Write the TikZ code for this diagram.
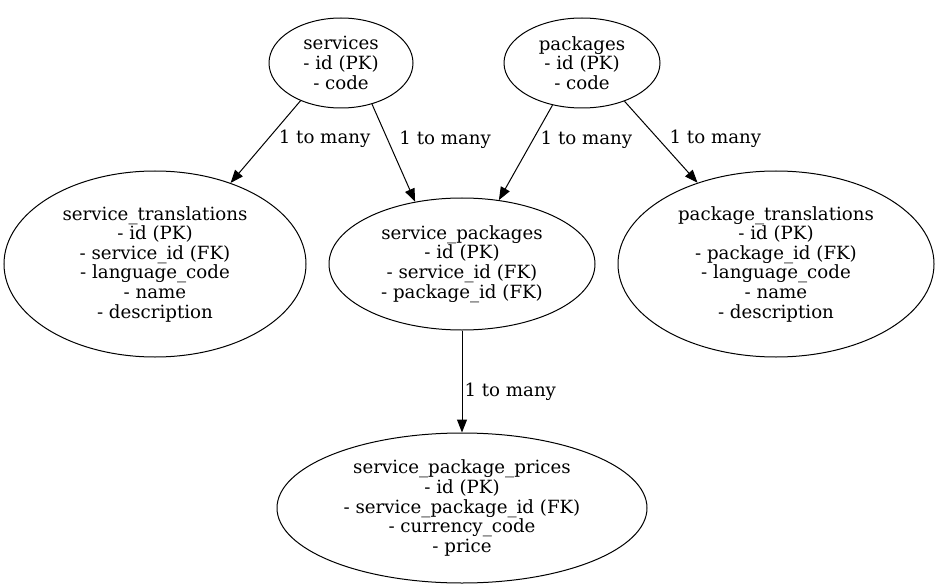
\documentclass[tikz,border=0pt]{standalone}
\usepackage{fontspec}
\setmainfont{DejaVu Serif}
\usetikzlibrary{shapes.geometric,arrows.meta}
\begin{document}
\begin{tikzpicture}[x=1pt,y=-1pt,
  ent/.style={draw, ellipse, inner sep=0pt, align=center, line width=1pt,
    font=\fontsize{18.2}{19.6}\selectfont},
  rel/.style={line width=1pt, -{Triangle[length=13pt,width=10pt]}},
  lbl/.style={font=\fontsize{18.2}{19.6}\selectfont, inner sep=0pt, anchor=west}]
\useasboundingbox (0,0) rectangle (939,588);
\node[ent, minimum width=144, minimum height=90] (services) at (341,63) {services\\- id (PK)\\- code};
\node[ent, minimum width=156, minimum height=90] (packages) at (582,63) {packages\\- id (PK)\\- code};
\node[ent, minimum width=302, minimum height=186] (st) at (155,264) {service\_translations\\- id (PK)\\- service\_id (FK)\\- language\_code\\- name\\- description};
\node[ent, minimum width=266, minimum height=132] (sp) at (462,264) {service\_packages\\- id (PK)\\- service\_id (FK)\\- package\_id (FK)};
\node[ent, minimum width=316, minimum height=186] (pt) at (776,264) {package\_translations\\- id (PK)\\- package\_id (FK)\\- language\_code\\- name\\- description};
\node[ent, minimum width=370, minimum height=150] (spp) at (462,508) {service\_package\_prices\\- id (PK)\\- service\_package\_id (FK)\\- currency\_code\\- price};
\draw[rel] (services.-137) -- node[lbl, pos=0.46, xshift=10] (l1) {1 to many} (st.47);
\draw[rel] (services.-53) -- node[lbl, pos=0.37, xshift=11] (l2) {1 to many} (sp.127);
\draw[rel] (packages.-125) -- node[lbl, pos=0.36, xshift=7] (l3) {1 to many} (sp.60);
\draw[rel] (packages.-42) -- node[lbl, pos=0.46, xshift=11] (l4) {1 to many} (pt.134);
\draw[rel] (sp.south) -- node[lbl, pos=0.6, xshift=2] (l5) {1 to many} (spp.north);
\end{tikzpicture}
\end{document}
